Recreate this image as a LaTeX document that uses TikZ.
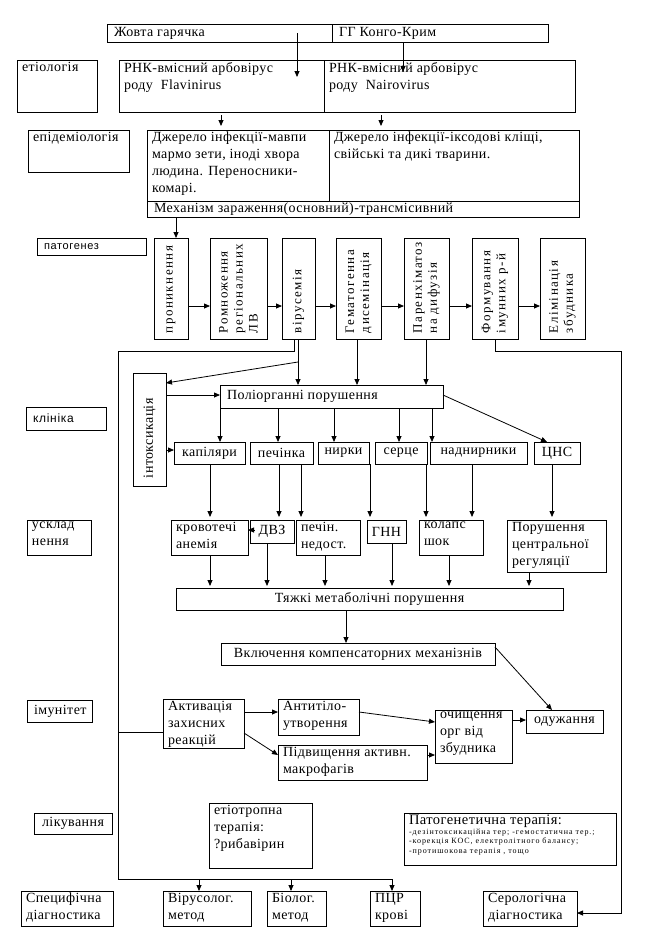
\documentclass[tikz,border=0pt]{standalone}
\usepackage{fontspec}
\setmainfont{Liberation Serif}[LetterSpace=3]
\newfontfamily\sansf{Liberation Sans}[LetterSpace=6]
\newfontfamily\rotf{Liberation Serif}[LetterSpace=11]
\usetikzlibrary{arrows.meta,calc}
\newcommand\TL{\raggedright\leftskip=5pt\relax\hyphenpenalty=10000\relax\vspace*{2pt}}
\newcommand\LC{\raggedright\leftskip=7pt\relax\hyphenpenalty=10000\relax}
\newcommand\CC{\centering\hyphenpenalty=10000\relax}
% name, x1, y1, x2, y2, vpos, align, text
\newcommand\bx[8]{\node[bx] (#1) at (#2,#3) {\parbox[c][\dimexpr#5pt-#3pt\relax][#6]{\dimexpr#4pt-#2pt\relax}{#7#8}};}
% empty box: name, x1, y1, x2, y2
\newcommand\eb[5]{\node[bx, minimum width={(#4-#2)*1pt}, minimum height={(#5-#3)*1pt}] (#1) at (#2,#3) {};}
% rotated text inside box: name, box width, box height, text
\newcommand\rt[4]{\node[rtx] (#1t) at (#1.center) {\parbox[c][#2pt][c]{#3pt}{\raggedright\leftskip=6pt\relax\hyphenpenalty=10000\relax #4}};}
\tikzset{
  bx/.style={draw, line width=0.8pt, anchor=north west, inner sep=0pt, outer sep=0pt, font=\fontsize{14}{17}\selectfont},
  rtx/.style={rotate=90, inner sep=0pt, font=\rotf\fontsize{13}{15}\selectfont},
  arr/.style={line width=0.8pt, -{Triangle[length=6pt,width=5pt]}},
  ln/.style={line width=0.8pt},
}
\begin{document}
\begin{tikzpicture}[x=1pt,y=-1pt]
\fill[white] (0,0) rectangle (645,945);
\useasboundingbox (0,0) rectangle (645,945);
% ---- top / etiology / epidemiology
\bx{yf}{107}{24}{332}{42}{c}{\LC}{Жовта гарячка}
\bx{cc}{332}{24}{548}{42}{c}{\LC}{ГГ Конго-Крим}
\bx{etl}{17}{60}{97}{112}{t}{\TL}{етіологія}
\bx{et1}{119}{60}{324}{112}{t}{\TL}{РНК-вмісний арбовірус\\роду\ \ Flavinirus}
\bx{et2}{324}{60}{575}{112}{t}{\TL}{РНК-вмісний арбовірус\\роду\ \ Nairovirus}
\bx{epl}{28}{130}{129}{172}{t}{\TL}{епідеміологія}
\bx{ep1}{147}{130}{329}{201}{t}{\TL}{Джерело інфекції-мавпи\\мармо зети, іноді хвора\\людина. Переносники-\\комарі.}
\bx{ep2}{329}{130}{579}{201}{t}{\TL}{Джерело інфекції-іксодові кліщі,\\свійські та дикі тварини.}
\bx{mech}{147}{201}{579}{217}{c}{\LC}{Механізм зараження(основний)-трансмісивний}
% ---- pathogenesis
\bx{pgl}{37}{238}{146}{255}{c}{\LC\sansf\fontsize{11}{13}\selectfont}{патогенез}
\eb{p1}{154}{238}{188}{339}
\eb{p2}{210}{238}{267}{339}
\eb{p3}{282}{238}{315}{339}
\eb{p4}{336}{238}{381}{339}
\eb{p5}{404}{238}{449}{339}
\eb{p6}{472}{238}{518}{339}
\eb{p7}{540}{238}{585}{339}
\rt{p1}{34}{101}{проникнення}
\rt{p2}{57}{101}{Ромноження\\регіональних\\ЛВ}
\rt{p3}{33}{101}{вірусемія}
\rt{p4}{45}{101}{Гематогенна\\дисемінація}
\rt{p5}{45}{101}{Паренхіматоз\\на дифузія}
\rt{p6}{46}{101}{Формування\\імунних р-й}
\rt{p7}{45}{101}{Елімінація\\збудника}
% ---- clinic
\bx{cll}{26}{407}{106}{430}{c}{\LC\sansf\fontsize{12}{14}\selectfont}{клініка}
\eb{itx}{133}{373}{166}{486}
\node[rtx, font=\fontsize{14}{16}\selectfont] (itxt) at (itx.center) {\parbox[c][33pt][c]{113pt}{\raggedright\leftskip=8pt\relax інтоксикація}};
\bx{poly}{220}{385}{443}{408}{c}{\LC}{Поліорганні порушення}
\bx{cap}{174}{442}{245}{464}{c}{\CC}{капіляри}
\bx{liv}{250}{442}{313}{464}{c}{\CC}{печінка}
\bx{kid}{318}{442}{369}{464}{c}{\CC}{нирки}
\bx{hrt}{375}{442}{427}{464}{c}{\CC}{серце}
\bx{adr}{430}{442}{527}{464}{c}{\CC}{наднирники}
\bx{cns}{534}{442}{580}{464}{c}{\CC}{ЦНС}
% ---- complications
\bx{cpl}{27}{520}{91}{555}{t}{\TL}{усклад\\нення}
\bx{bld}{171}{520}{248}{555}{t}{\TL}{кровотечі\\анемія}
\bx{dvz}{250}{520}{294}{543}{c}{\CC}{ДВЗ}
\bx{pech}{296}{520}{360}{555}{t}{\TL}{печін.\\недост.}
\bx{gnn}{367}{520}{406}{543}{c}{\CC}{ГНН}
\bx{shk}{419}{520}{483}{555}{t}{\TL}{колапс\\шок}
\bx{cnr}{507}{520}{606}{572}{t}{\TL}{Порушення\\центральної\\регуляції}
\bx{hvy}{176}{588}{563}{610}{c}{\CC}{Тяжкі метаболічні порушення}
\bx{cmp}{221}{643}{495}{665}{c}{\CC}{Включення компенсаторних механізнів}
% ---- immunity
\bx{iml}{27}{700}{92}{722}{c}{\LC}{імунітет}
\bx{act}{163}{699}{244}{748}{t}{\TL}{Активація\\захисних\\реакцій}
\bx{anti}{278}{699}{359}{735}{t}{\TL}{Антитіло-\\утворення}
\bx{mac}{278}{745}{427}{780}{t}{\TL}{Підвищення активн.\\макрофагів}
\bx{cln}{435}{710}{512}{763}{t}{\TL}{очищення\\орг від\\збудника}
\bx{rec}{526}{710}{603}{733}{c}{\CC}{одужання}
% ---- treatment
\bx{trl}{34}{813}{112}{834}{c}{\CC}{лікування}
\bx{etx}{209}{803}{312}{868}{t}{\TL}{етіотропна\\терапія:\\?рибавірин}
\bx{ptx}{404}{813}{616}{865}{t}{\TL}{{\fontsize{14.5}{16}\selectfont Патогенетична терапія:\par}{\fontsize{8}{9.5}\selectfont\addfontfeature{LetterSpace=12}-дезінтоксикаційна тер; -гемостатична тер.;\\-корекція КОС, електролітного балансу;\\-протишокова терапія , тощо\par}}
% ---- diagnostics
\bx{dgl}{21}{891}{113}{926}{t}{\TL}{Специфічна\\діагностика}
\bx{vir}{163}{891}{251}{926}{t}{\TL}{Вірусолог.\\метод}
\bx{bio}{267}{891}{326}{926}{t}{\TL}{Біолог.\\метод}
\bx{pcr}{370}{891}{420}{926}{t}{\TL}{ПЦР\\крові}
\bx{ser}{483}{891}{577}{926}{t}{\TL}{Серологічна\\діагностика}
% ---- coordinates of the frame
\coordinate (fTL) at (118,351);
\coordinate (fBL) at (118,879);
\coordinate (fTR) at (621,351);
\coordinate (vj) at (298,362);
% ---- connectors
\draw[arr] (yf.center -| 297,0) -- ($(et1.north -| 297,0)+(0,17)$);
\draw[arr] (cc.south -| 403,0) -- ($(et2.north -| 403,0)+(0,12)$);
\draw[arr, shorten <=3pt, shorten >=4pt] (et1.south -| 221,0) -- (ep1.north -| 221,0);
\draw[arr, shorten <=3pt, shorten >=4pt] (et2.south -| 381,0) -- (ep2.north -| 381,0);
\draw[arr] (mech.south -| 176,0) -- (p1.north -| 176,0);
\foreach \a/\b in {p1/p2,p2/p3,p3/p4,p4/p5,p5/p6,p6/p7}
  \draw[arr] (\a.east |- 0,306) -- (\b.west |- 0,306);
% frame
\draw[arr] (p3.south -| 294,0) |- (fTL) -- (fBL) -| (pcr.north -| 392,0);
\draw[arr] (fBL -| 199,0) -- (vir.north -| 199,0);
\draw[arr] (fBL -| 291,0) -- (bio.north -| 291,0);
\draw[ln] (fBL |- 0,732) -- (act.west |- 0,732);
\draw[arr] (p6.south -| 495,0) |- (fTR) |- (ser.east |- 0,913);
% clinic
\draw[arr] (p3.south -| 298,0) -- (poly.north -| 298,0);
\draw[arr] (vj) -- (itx.east |- 0,383);
\draw[arr] (p4.south -| 357,0) -- (poly.north -| 357,0);
\draw[arr] (p5.south -| 426,0) -- (poly.north -| 426,0);
\draw[arr] (itx.east |- 0,395) -- (poly.west |- 0,395);
\draw[arr] (itx.east |- 0,450) -- (cap.west |- 0,450);
\foreach \o/\x in {cap/220, liv/278, kid/334, hrt/399, adr/432}
  \draw[arr] (poly.south -| \x,0) -- (\o.north -| \x,0);
\draw[arr] (poly.east |- 0,395) -- (cns.north -| 547,0);
% organs -> complications
\foreach \s/\t/\x in {cap/bld/210, liv/dvz/279, liv/pech/301, kid/gnn/370, hrt/shk/426, adr/shk/472, cns/cnr/552}
  \draw[arr, shorten >=3pt] (\s.south -| \x,0) -- (\t.north -| \x,0);
\draw[arr] ($(dvz.west |- 0,530)+(5,0)$) -- (bld.east |- 0,530);
% complications -> heavy
\foreach \s/\x in {bld/210, dvz/267, pech/325, gnn/392, shk/449, cnr/529}
  \draw[arr, shorten >=2pt] (\s.south -| \x,0) -- (hvy.north -| \x,0);
\draw[arr] (hvy.south -| 346,0) -- (cmp.north -| 346,0);
\draw[arr] (cmp.east |- 0,647) -- (rec.north -| 552,0);
% immunity
\draw[arr] (act.east |- 0,712) -- (anti.west |- 0,712);
\draw[arr] (act.east |- 0,733) -- (mac.west |- 0,755);
\draw[arr] (anti.east |- 0,712) -- (cln.west |- 0,722);
\draw[arr] (mac.east |- 0,755) -- (cln.west |- 0,755);
\draw[arr] (cln.east |- 0,720) -- (rec.west |- 0,720);
\end{tikzpicture}
\end{document}
